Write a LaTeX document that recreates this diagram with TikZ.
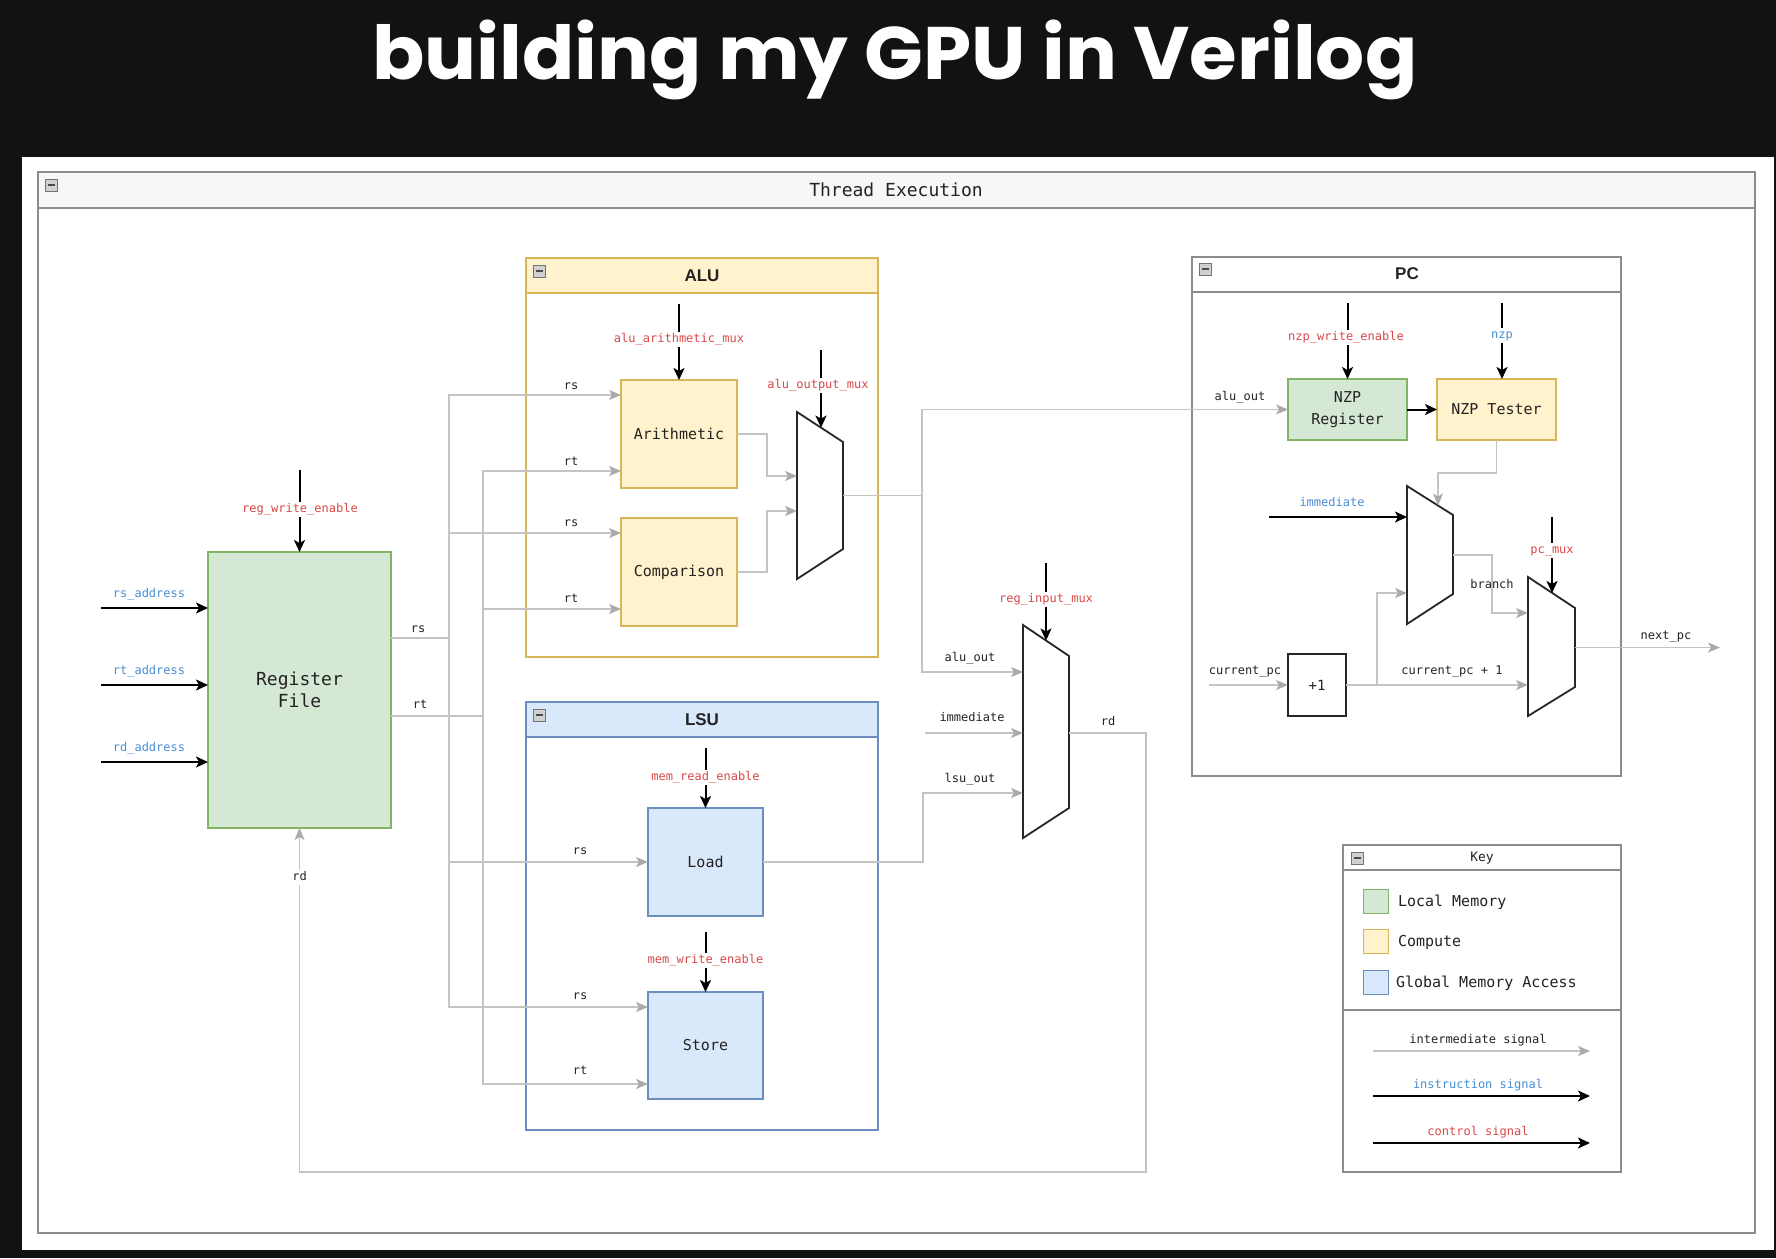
\documentclass[tikz,border=0pt]{standalone}
\usepackage{fontspec}
\usepackage{graphicx}
\setmonofont{DejaVu Sans Mono}
\newfontfamily\titlefont{Poppins}
\newfontfamily\hfont{Liberation Sans}
\usetikzlibrary{arrows.meta,calc}
\definecolor{bg}{RGB}{18,18,18}
\definecolor{lgray}{RGB}{196,196,196}
\definecolor{agray}{RGB}{170,170,170}
\definecolor{framec}{RGB}{140,140,140}
\definecolor{gfill}{HTML}{D5E8D4}\definecolor{gdraw}{HTML}{82B366}
\definecolor{yfill}{HTML}{FFF2CC}\definecolor{ydraw}{HTML}{D6B656}
\definecolor{bfill}{HTML}{DAE8FC}\definecolor{bdraw}{HTML}{6C8EBF}
\definecolor{ctl}{RGB}{218,72,72}
\definecolor{ins}{RGB}{72,142,212}
\definecolor{txt}{RGB}{35,35,35}
\tikzset{
  minusbox/.pic={\draw[black!55, fill=black!18, line width=0.6pt] (-6,-6) rectangle (6,6);
                 \draw[black!70, line width=1.3pt] (-3.5,0) -- (3.5,0);}
}
\begin{document}
\begin{tikzpicture}[x=1pt,y=-1pt,
  every node/.style={inner sep=0pt, outer sep=0pt, text=txt},
  lab/.style={font=\ttfamily\fontsize{12}{14}\selectfont, text height=8.5pt, text depth=2.5pt},
  clab/.style={lab, text=ctl, fill=white, inner sep=2pt},
  ilab/.style={lab, text=ins},
  blk/.style={draw, line width=1.2pt, rectangle, align=center, font=\ttfamily\fontsize{15}{22}\selectfont},
  lm/.style={blk, fill=gfill, draw=gdraw},
  cp/.style={blk, fill=yfill, draw=ydraw},
  gm/.style={blk, fill=bfill, draw=bdraw},
  gl/.style={draw=lgray, line width=1.3pt},
  ga/.style={gl, -{Stealth[length=12pt,width=10pt,inset=3pt,color=agray]}},
  ka/.style={draw=black, line width=2pt, -{Stealth[length=12pt,width=11pt,inset=3pt]}},
  mux/.style={draw=black!85, line width=1.8pt, fill=white, line join=miter},
  contbox/.style={line width=1.5pt},
  hdr/.style={font=\hfont\bfseries\fontsize{17}{20}\selectfont},
  keytxt/.style={anchor=west, font=\ttfamily\fontsize{15}{18}\selectfont, text height=11pt, text depth=3pt},
]
\useasboundingbox (0,0) rectangle (1776,1258);
\fill[bg] (0,0) rectangle (1776,1258);
\fill[white] (22,157) rectangle (1774,1250);

% title
\node[text=white, font=\titlefont\bfseries] (title) at (895,60) {\resizebox*{1044pt}{80pt}{building my GPU in Verilog}};

% Thread Execution frame
\fill[black!3] (38,172) rectangle (1755,208);
\draw[framec, contbox] (38,172) rectangle (1755,1233);
\draw[framec, contbox] (38,208) -- (1755,208);
\node[font=\ttfamily\fontsize{18}{20}\selectfont] (thr) at (896,190) {Thread Execution};
\pic at (51,185) {minusbox};

% ALU container
\fill[yfill] (526,258) rectangle (878,293);
\draw[ydraw, contbox] (526,258) rectangle (878,657);
\draw[ydraw, contbox] (526,293) -- (878,293);
\node[hdr] (alut) at (702,276) {ALU};
\pic at (539,271) {minusbox};

% LSU container
\fill[bfill] (526,702) rectangle (878,737);
\draw[bdraw, contbox] (526,702) rectangle (878,1130);
\draw[bdraw, contbox] (526,737) -- (878,737);
\node[hdr] (lsut) at (702,720) {LSU};
\pic at (539,715) {minusbox};

% PC container
\draw[framec, contbox] (1192,257) rectangle (1621,776);
\draw[framec, contbox] (1192,292) -- (1621,292);
\node[hdr] (pct) at (1407,274) {PC};
\pic at (1205,269) {minusbox};

% Key container
\draw[framec, contbox] (1343,845) rectangle (1621,1172);
\draw[framec, contbox] (1343,870) -- (1621,870);
\draw[framec, contbox] (1343,1010) -- (1621,1010);
\node[font=\ttfamily\fontsize{13}{15}\selectfont] (keyt) at (1482,858) {Key};
\pic at (1357,858) {minusbox};

% ---------------- Register file ----------------
\node[lm, minimum width=183, minimum height=276, font=\ttfamily\fontsize{18}{22}\selectfont] (rf) at (299.5,690) {Register\\File};

\coordinate (rsa) at (101,608);
\coordinate (rta) at (101,685);
\coordinate (rda) at (101,762);
\draw[ka] (rsa) -- (rsa -| rf.west);
\draw[ka] (rta) -- (rta -| rf.west);
\draw[ka] (rda) -- (rda -| rf.west);
\node[ilab] (rsal) at (149,594) {rs\_address};
\node[ilab] (rtal) at (149,671) {rt\_address};
\node[ilab] (rdal) at (149,748) {rd\_address};

\coordinate (rwe) at (299.5,470);
\draw[ka] (rwe) -- (rf.north);
\node[clab] (rwel) at (300,509) {reg\_write\_enable};

% ---------------- ALU ----------------
\node[cp, minimum width=116, minimum height=108] (arith) at (679,434) {Arithmetic};
\node[cp, minimum width=116, minimum height=108] (comp) at (679,572) {Comparison};

% ---------------- LSU ----------------
\node[gm, minimum width=115, minimum height=108] (load) at (705.5,862) {Load};
\node[gm, minimum width=115, minimum height=107] (store) at (705.5,1045.5) {Store};

% rs / rt buses
\coordinate (rfrs) at (391,638);
\coordinate (rfrt) at (391,716);
\coordinate (busrs) at (449,638);
\coordinate (busrt) at (483,716);
\draw[gl] (rfrs) -- (busrs);
\draw[gl] (rfrt) -- (busrt);
\draw[ga] (busrs) |- ([yshift=39]arith.west);
\draw[ga] (busrs) |- ([yshift=39]comp.west);
\draw[ga] (busrs) |- (load.west);
\draw[ga] (busrs) |- ([yshift=38.5]store.west);
\draw[ga] (busrt) |- ([yshift=-37]arith.west);
\draw[ga] (busrt) |- ([yshift=-37]comp.west);
\draw[ga] (busrt) |- ([yshift=-38.5]store.west);
\node[lab] (rfrsl) at (418,629) {rs};
\node[lab] (rfrtl) at (420,705) {rt};
\node[lab] (a1) at (571,386) {rs};
\node[lab] (a2) at (571,462) {rt};
\node[lab] (a3) at (571,523) {rs};
\node[lab] (a4) at (571,599) {rt};
\node[lab] (l1) at (580,851) {rs};
\node[lab] (l2) at (580,996) {rs};
\node[lab] (l3) at (580,1071) {rt};

% ALU controls
\coordinate (aam) at (679,304);
\draw[ka] (aam) -- (arith.north);
\node[clab] (aaml) at (679,339) {alu\_arithmetic\_mux};

% ALU output mux
\draw[mux] (797,412) -- (843,442) -- (843,549) -- (797,579) -- cycle;
\coordinate (amin1) at (797,476);
\coordinate (amin2) at (797,511);
\coordinate (amout) at (843,495.5);
\coordinate (amsel) at (821,427.6);
\draw[ga] (arith.east) -- ++(30,0) |- (amin1);
\draw[ga] (comp.east) -- ++(30,0) |- (amin2);
\coordinate (aom) at (821,350);
\draw[ka] (aom) -- (amsel);
\node[clab] (aoml) at (818,385) {alu\_output\_mux};

% LSU controls
\coordinate (mre) at (705.5,748);
\draw[ka] (mre) -- (load.north);
\node[clab] (mrel) at (705.5,777) {mem\_read\_enable};
\coordinate (mwe) at (705.5,932);
\draw[ka] (mwe) -- (store.north);
\node[clab] (mwel) at (705.5,960) {mem\_write\_enable};

% ---------------- reg input mux ----------------
\draw[mux] (1023,625) -- (1069,656) -- (1069,808) -- (1023,838) -- cycle;
\coordinate (rmin1) at (1023,672);
\coordinate (rmin2) at (1023,733);
\coordinate (rmin3) at (1023,793);
\coordinate (rmout) at (1069,733);
\coordinate (rmsel) at (1046,640.5);
\coordinate (rimc) at (1046,563);
\draw[ka] (rimc) -- (rmsel);
\node[clab] (riml) at (1046,599) {reg\_input\_mux};

\coordinate (j1) at (922,495.5);
\draw[gl] (amout) -- (j1);
\draw[ga] (j1) |- (rmin1);
\coordinate (imm1) at (925,733);
\draw[ga] (imm1) -- (rmin2);
\draw[ga] (load.east) -- ++(160,0) |- (rmin3);
\node[lab] (aol) at (970,658) {alu\_out};
\node[lab] (imml) at (972,718) {immediate};
\node[lab] (lol) at (970,779) {lsu\_out};

% rd feedback
\draw[ga] (rmout) -| (1146,1172) -| (rf.south);
\node[lab] (rdl) at (1108,722) {rd};
\node[lab, fill=white, inner sep=2pt] (rdl2) at (299.5,877) {rd};

% ---------------- PC ----------------
\node[lm, minimum width=119, minimum height=61] (nzpr) at (1347.5,409.5) {NZP\\Register};
\node[cp, minimum width=119, minimum height=61] (nzpt) at (1496.5,409.5) {NZP Tester};
\draw[ga] (j1) |- (nzpr.west);
\node[lab] (aol2) at (1240,397) {alu\_out};
\draw[ka] (nzpr.east) -- (nzpt.west);

\coordinate (nwe) at (1347.5,303);
\draw[ka] (nwe) -- (nzpr.north);
\node[clab] (nwel) at (1346,337) {nzp\_write\_enable};
\coordinate (nzpc) at (1502,303);
\draw[ka] (nzpc) -- (nzpc |- nzpt.north);
\node[ilab, fill=white, inner sep=2pt] (nzpl) at (1502,335) {nzp};

% branch mux
\draw[mux] (1407,486) -- (1453,515) -- (1453,594) -- (1407,624) -- cycle;
\coordinate (bmin1) at (1407,517);
\coordinate (bmin2) at (1407,593);
\coordinate (bmout) at (1453,555);
\coordinate (bmsel) at (1438,505.5);
\draw[ga] (nzpt.south) -- ++(0,33) -| (bmsel);
\coordinate (imm2) at (1269,517);
\draw[ka] (imm2) -- (bmin1);
\node[ilab] (imm2l) at (1332,503) {immediate};

% +1
\node[draw=black!85, line width=1.6pt, fill=white, minimum width=58, minimum height=62, font=\ttfamily\fontsize{14}{16}\selectfont] (inc) at (1317,685) {+1};
\coordinate (cpc) at (1209,685);
\draw[ga] (cpc) -- (inc.west);
\node[lab] (cpcl) at (1245,671) {current\_pc};

% pc mux
\draw[mux] (1528,577) -- (1575,608) -- (1575,687) -- (1528,716) -- cycle;
\coordinate (pmin1) at (1528,613);
\coordinate (pmin2) at (1528,685);
\coordinate (pmout) at (1575,647.5);
\coordinate (pmsel) at (1552,593);
\draw[ga] (inc.east) -- (pmin2);
\draw[ga] (inc.east) -- ++(31,0) |- (bmin2);
\draw[ga] (bmout) -- ++(39,0) |- (pmin1);
\node[lab] (brl) at (1492,585) {branch};
\node[lab] (cp1l) at (1452,671) {current\_pc + 1};
\coordinate (pmc) at (1552,517);
\draw[ka] (pmc) -- (pmsel);
\node[clab] (pmcl) at (1552,550) {pc\_mux};
\coordinate (npc) at (1720,647.5);
\draw[ga] (pmout) -- (npc);
\node[lab] (npcl) at (1666,636) {next\_pc};

% ---------------- Key ----------------
\node[fill=gfill, draw=gdraw, line width=1pt, minimum width=25, minimum height=24] (sw1) at (1375.5,901.5) {};
\node[fill=yfill, draw=ydraw, line width=1pt, minimum width=25, minimum height=24] (sw2) at (1375.5,941) {};
\node[fill=bfill, draw=bdraw, line width=1pt, minimum width=25, minimum height=24] (sw3) at (1375.5,982) {};
\node[keytxt] (k1) at (1398,902) {Local Memory};
\node[keytxt] (k2) at (1398,942) {Compute};
\node[keytxt] (k3) at (1396,983) {Global Memory Access};

\coordinate (kia) at (1373,1051); \coordinate (kib) at (1590,1051);
\coordinate (kna) at (1373,1096); \coordinate (knb) at (1590,1096);
\coordinate (kca) at (1373,1143); \coordinate (kcb) at (1590,1143);
\draw[ga] (kia) -- (kib);
\draw[ka] (kna) -- (knb);
\draw[ka] (kca) -- (kcb);
\node[lab] (kil) at (1478,1040) {intermediate signal};
\node[ilab] (knl) at (1478,1085) {instruction signal};
\node[lab, text=ctl] (kcl) at (1478,1132) {control signal};
\end{tikzpicture}
\end{document}
